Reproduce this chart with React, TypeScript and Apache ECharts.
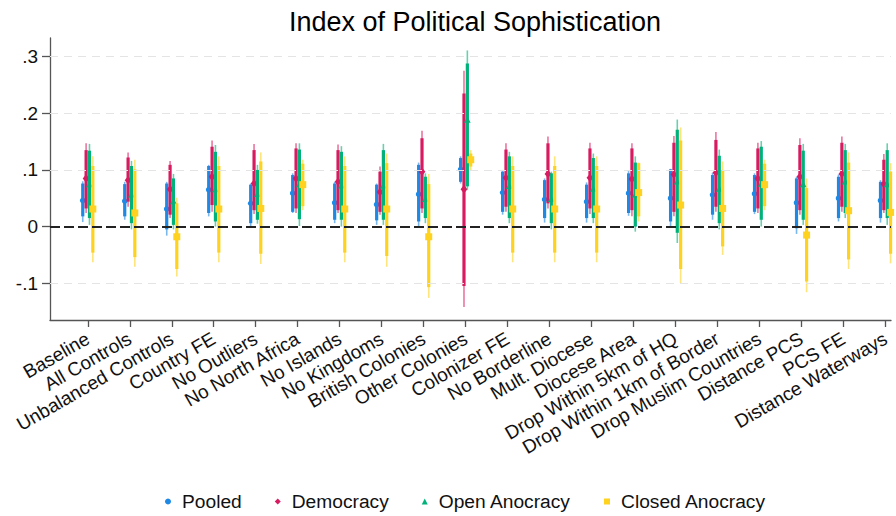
import React, { useEffect, useRef } from "react";
import * as echarts from "echarts";

const FONT = "'Liberation Sans', Arial, Helvetica, sans-serif";

const categories = [
  "Baseline",
  "All Controls",
  "Unbalanced Controls",
  "Country FE",
  "No Outliers",
  "No North Africa",
  "No Islands",
  "No Kingdoms",
  "British Colonies",
  "Other Colonies",
  "Colonizer FE",
  "No Borderline",
  "Mult. Diocese",
  "Diocese Area",
  "Drop Within 5km of HQ",
  "Drop Within 1km of Border",
  "Drop Muslim Countries",
  "Distance PCS",
  "PCS FE",
  "Distance Waterways",
];

const yTickValues = [-0.1, 0, 0.1, 0.2, 0.3];
const yTickLabels = ["-.1", "0", ".1", ".2", ".3"];

// Pooled
const pooledEst = [0.046, 0.045, 0.031, 0.065, 0.041, 0.059, 0.042, 0.039, 0.057, 0.101, 0.060, 0.048, 0.044, 0.059, 0.050, 0.056, 0.058, 0.042, 0.050, 0.046];
const pooledLo90 = [0.018, 0.018, -0.005, 0.024, 0.006, 0.026, 0.012, 0.011, 0.009, 0.079, 0.026, 0.015, 0.015, 0.024, 0.009, 0.021, 0.026, -0.003, 0.015, 0.015];
const pooledHi90 = [0.076, 0.075, 0.076, 0.107, 0.074, 0.091, 0.076, 0.074, 0.109, 0.121, 0.097, 0.082, 0.074, 0.094, 0.101, 0.091, 0.091, 0.085, 0.088, 0.079];
const pooledLo95 = [0.008, 0.012, -0.016, 0.018, 0.001, 0.024, 0.006, 0.003, 0.000, 0.076, 0.021, 0.007, 0.007, 0.019, 0.000, 0.012, 0.022, -0.013, 0.009, 0.007];
const pooledHi95 = [0.080, 0.079, 0.079, 0.109, 0.076, 0.094, 0.079, 0.076, 0.113, 0.124, 0.100, 0.085, 0.078, 0.098, 0.102, 0.095, 0.094, 0.088, 0.092, 0.082];

// Democracy
const demEst = [0.085, 0.082, 0.066, 0.088, 0.076, 0.085, 0.079, 0.061, 0.097, 0.066, 0.086, 0.093, 0.086, 0.084, 0.092, 0.095, 0.085, 0.088, 0.093, 0.075];
const demLo90 = [0.032, 0.044, 0.021, 0.038, 0.029, 0.032, 0.029, 0.026, 0.032, -0.105, 0.035, 0.041, 0.032, 0.029, 0.026, 0.035, 0.032, 0.029, 0.035, 0.029];
const demHi90 = [0.135, 0.122, 0.109, 0.141, 0.135, 0.138, 0.135, 0.097, 0.156, 0.235, 0.136, 0.147, 0.138, 0.138, 0.148, 0.153, 0.138, 0.144, 0.148, 0.118];
const demLo95 = [0.024, 0.035, 0.015, 0.026, 0.022, 0.024, 0.024, 0.021, 0.024, -0.142, 0.026, 0.032, 0.022, 0.018, 0.018, 0.026, 0.024, 0.021, 0.026, 0.024];
const demHi95 = [0.147, 0.131, 0.116, 0.152, 0.146, 0.147, 0.145, 0.106, 0.169, 0.275, 0.147, 0.159, 0.148, 0.147, 0.160, 0.167, 0.148, 0.156, 0.159, 0.128];

// Open Anocracy
const openEst = [0.074, 0.056, 0.044, 0.065, 0.057, 0.074, 0.072, 0.072, 0.048, 0.188, 0.071, 0.048, 0.066, 0.056, 0.079, 0.066, 0.075, 0.074, 0.079, 0.074];
const openLo90 = [0.015, 0.006, 0.003, 0.009, 0.012, 0.013, 0.012, 0.012, 0.015, 0.071, 0.015, 0.006, 0.015, 0.000, -0.011, 0.006, 0.012, 0.012, 0.024, 0.015];
const openHi90 = [0.134, 0.107, 0.085, 0.132, 0.100, 0.136, 0.132, 0.135, 0.088, 0.288, 0.124, 0.094, 0.121, 0.113, 0.171, 0.125, 0.141, 0.134, 0.135, 0.135];
const openLo95 = [0.003, -0.005, -0.005, 0.000, 0.005, 0.001, 0.000, 0.003, 0.006, 0.065, 0.006, -0.005, 0.006, -0.009, -0.029, -0.005, 0.000, 0.003, 0.015, 0.003];
const openHi95 = [0.146, 0.116, 0.093, 0.144, 0.109, 0.147, 0.142, 0.146, 0.094, 0.311, 0.132, 0.097, 0.129, 0.124, 0.189, 0.136, 0.151, 0.146, 0.146, 0.147];

// Closed Anocracy
const closedEst = [0.031, 0.024, -0.018, 0.031, 0.032, 0.074, 0.031, 0.031, -0.018, 0.118, 0.031, 0.031, 0.031, 0.060, 0.038, 0.032, 0.074, -0.015, 0.028, 0.025];
const closedLo90 = [-0.046, -0.054, -0.075, -0.046, -0.048, 0.036, -0.046, -0.052, -0.107, 0.106, -0.046, -0.046, -0.046, 0.018, -0.075, -0.035, 0.036, -0.097, -0.058, -0.048];
const closedHi90 = [0.107, 0.101, 0.041, 0.107, 0.115, 0.111, 0.107, 0.112, 0.075, 0.129, 0.107, 0.107, 0.107, 0.112, 0.152, 0.100, 0.111, 0.068, 0.113, 0.097];
const closedLo95 = [-0.063, -0.071, -0.088, -0.063, -0.066, 0.029, -0.063, -0.071, -0.126, 0.099, -0.063, -0.063, -0.063, 0.009, -0.100, -0.050, 0.029, -0.116, -0.075, -0.065];
const closedHi95 = [0.124, 0.118, 0.051, 0.124, 0.131, 0.118, 0.124, 0.129, 0.093, 0.135, 0.124, 0.124, 0.124, 0.113, 0.175, 0.115, 0.118, 0.085, 0.131, 0.112];

const groups = [
  { name: "Pooled", color: "#1E88E5", shape: "circle", icon: "circle", offset: -0.12, est: pooledEst, lo90: pooledLo90, hi90: pooledHi90, lo95: pooledLo95, hi95: pooledHi95 },
  { name: "Democracy", color: "#D81B60", shape: "diamond", icon: "diamond", offset: -0.04, est: demEst, lo90: demLo90, hi90: demHi90, lo95: demLo95, hi95: demHi95 },
  { name: "Open Anocracy", color: "#00B27A", shape: "triangle", icon: "triangle", offset: 0.04, est: openEst, lo90: openLo90, hi90: openHi90, lo95: openLo95, hi95: openHi95 },
  { name: "Closed Anocracy", color: "#FFD21F", shape: "square", icon: "rect", offset: 0.12, est: closedEst, lo90: closedLo90, hi90: closedHi90, lo95: closedLo95, hi95: closedHi95 },
];

function makeMarker(shape: string, cx: number, cy: number, color: string) {
  if (shape === "circle") {
    return { type: "circle", shape: { cx, cy, r: 2.8 }, style: { fill: color } };
  }
  if (shape === "diamond") {
    return {
      type: "polygon",
      shape: { points: [[cx, cy - 4.2], [cx + 3.4, cy], [cx, cy + 4.2], [cx - 3.4, cy]] },
      style: { fill: color },
    };
  }
  if (shape === "triangle") {
    return {
      type: "polygon",
      shape: { points: [[cx, cy - 3.8], [cx + 3.3, cy + 2.6], [cx - 3.3, cy + 2.6]] },
      style: { fill: color },
    };
  }
  return { type: "rect", shape: { x: cx - 3.5, y: cy - 3.5, width: 7, height: 7 }, style: { fill: color } };
}

export default function App() {
  const ref = useRef<HTMLDivElement>(null);

  useEffect(() => {
    const chart = echarts.init(ref.current!, null, { renderer: "svg" });

    const seriesList: any[] = [
      {
        type: "line",
        name: "refLines",
        data: [],
        silent: true,
        z: 1,
        markLine: {
          silent: true,
          symbol: "none",
          label: { show: false },
          animation: false,
          data: [
            ...yTickValues
              .filter((v) => v !== 0)
              .map((v) => ({ yAxis: v, lineStyle: { color: "#e4e4e4", width: 1, type: [8, 6] } })),
            { yAxis: 0, lineStyle: { color: "#222222", width: 2, type: [10, 4] } },
          ],
        },
      },
    ];

    groups.forEach((g) => {
      seriesList.push({
        type: "custom",
        name: g.name,
        z: 3,
        itemStyle: { color: g.color },
        clip: false,
        encode: { x: 0, y: [1, 2, 3, 4, 5] },
        data: categories.map((_, i) => [i + g.offset, g.est[i], g.lo90[i], g.hi90[i], g.lo95[i], g.hi95[i]]),
        renderItem: (params: any, api: any) => {
          const x = api.value(0);
          const pe = api.coord([x, api.value(1)]);
          const a = api.coord([x, api.value(2)]);
          const b = api.coord([x, api.value(3)]);
          const c = api.coord([x, api.value(4)]);
          const d = api.coord([x, api.value(5)]);
          return {
            type: "group",
            children: [
              {
                type: "line",
                shape: { x1: c[0], y1: c[1], x2: d[0], y2: d[1] },
                style: { stroke: g.color, lineWidth: 1.6, opacity: 0.6 },
              },
              {
                type: "line",
                shape: { x1: a[0], y1: a[1], x2: b[0], y2: b[1] },
                style: { stroke: g.color, lineWidth: 3.2 },
              },
              makeMarker(g.shape, pe[0], pe[1], g.color),
            ],
          };
        },
      });
    });

    const option: any = {
      animation: false,
      backgroundColor: "#ffffff",
      textStyle: { fontFamily: FONT },
      title: {
        text: "Index of Political Sophistication",
        left: 470,
        textAlign: "center",
        top: 3,
        textStyle: { fontFamily: FONT, fontSize: 27, fontWeight: "normal", color: "#000" },
      },
      legend: {
        data: groups.map((g) => ({ name: g.name, icon: g.icon })),
        left: 160,
        top: 487,
        itemWidth: 6,
        itemHeight: 6,
        itemGap: 33,
        selectedMode: false,
        textStyle: { fontFamily: FONT, fontSize: 19.2, color: "#111", padding: [0, 0, 0, 6] },
      },
      grid: { left: 50, right: 5, top: 38, bottom: 196, outerBoundsMode: "none", containLabel: false },
      xAxis: {
        type: "value",
        min: -0.9,
        max: 19.13,
        axisLine: { onZero: false, lineStyle: { color: "#555", width: 1.3 } },
        axisTick: { show: true, length: 7, lineStyle: { color: "#555", width: 1.3 }, customValues: categories.map((_, i) => i) },
        axisLabel: {
          customValues: categories.map((_, i) => i),
          formatter: (v: number) => categories[Math.round(v)] ?? "",
          rotate: 30,
          margin: 17,
          fontFamily: FONT,
          fontSize: 19,
          color: "#111",
        },
        splitLine: { show: false },
      },
      yAxis: {
        type: "value",
        min: -0.165,
        max: 0.333,
        axisLine: { show: true, onZero: false, lineStyle: { color: "#555", width: 1.3 } },
        axisTick: { show: true, length: 8, lineStyle: { color: "#555", width: 1.3 }, customValues: yTickValues },
        axisLabel: {
          customValues: yTickValues,
          formatter: (v: number) => {
            let best = 0;
            yTickValues.forEach((t, i) => {
              if (Math.abs(t - v) < Math.abs(yTickValues[best] - v)) best = i;
            });
            return yTickLabels[best];
          },
          margin: 12,
          fontFamily: FONT,
          fontSize: 19,
          color: "#111",
        },
        splitLine: { show: false },
      },
      series: seriesList,
    };

    chart.setOption(option);
    return () => chart.dispose();
  }, []);

  return (
    <div
      ref={ref}
      style={{ position: "absolute", left: 0, top: 0, width: 896, height: 516, background: "#fff" }}
    />
  );
}
